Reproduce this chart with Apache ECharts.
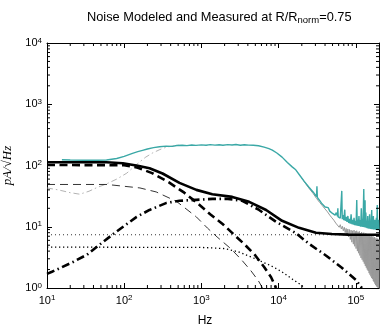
<!DOCTYPE html>
<html>
<head>
<meta charset="utf-8">
<script src="https://cdn.jsdelivr.net/npm/echarts@6/dist/echarts.min.js"></script>
<style>
  html, body { margin: 0; padding: 0; background: #fff; }
  #chart { width: 388px; height: 327px; }
</style>
</head>
<body>
<div id="chart"></div>
<script>
// axis ranges
const xMin = 10, xMax = 200000
const yMin = 1, yMax = 10000

// measured spectra [Hz, pA/rtHz]
const measuredCyan = [[15.6,124],[20,123],[30,122],[45,122],[59,123],[80,130],[100,141],[128,158],[150,168],[173,177],[200,186],[240,196],[287,202],[350,207],[420,205],[480,212],[566,214],[650,211],[750,216],[850,213],[1000,217],[1150,214],[1300,219],[1500,215],[1700,218],[1900,214],[2200,219],[2500,216],[2800,220],[3200,214],[3600,218],[4100,215],[4700,214],[5500,210],[6500,200],[7500,188],[8300,178],[9500,160],[11100,137],[13000,112],[15000,95],[16700,85],[19000,68],[21500,55],[24600,44.6],[28000,37],[31000,31],[31400,46],[31800,30],[34000,27],[36000,24.3],[38000,23],[40000,21],[42000,19.5],[44000,20.5],[46000,18],[48000,18.8],[50000,16.5],[52000,17.2],[54000,15.5],[56000,17],[58000,14.8],[58600,20],[59200,14.5],[61000,15],[63000,13.8],[65000,14.5],[65900,38.5],[66800,13.3],[68000,15.5],[70000,12.8],[72000,19],[73000,12.5],[75000,14.5],[77000,12],[79000,15],[81000,11.5],[83000,13.5],[85000,11.2],[87000,16],[89000,11],[91000,13],[93000,10.8],[95000,14],[97000,10.6],[99000,12.5],[101000,10.5],[103000,27.4],[104500,10.4],[106000,13],[108000,10.3],[110000,15],[112000,10.2],[114000,12.8],[116000,10],[118000,20],[120000,10],[122000,13.5],[124000,9.9],[127000,41.4],[129000,9.8],[131000,14],[132000,27],[133000,9.7],[135000,17],[137000,9.6],[139000,12.5],[141000,9.5],[143000,15],[145000,9.4],[147000,12],[149000,9.3],[151000,16],[153000,9.3],[155000,12.5],[157000,9.2],[159000,14],[161000,18.8],[163000,9.1],[165000,12],[167000,9.1],[169000,15],[171000,9],[173000,11.5],[175000,9],[177000,13],[179000,9],[181000,11],[183000,8.9],[185000,14],[187000,8.9],[190000,22.7],[192000,8.9],[194000,12],[196000,8.8],[198000,13],[200000,9]]
const measuredGrayLow = [[10,43],[14,40],[20,36],[26.6,34],[35,38],[45,44],[59,50],[80,60],[108,75],[130,92],[158,114],[190,137],[233,160],[290,182],[354,200],[430,208],[520,215]]
const measuredGrayHigh = [[20000,62],[24600,43],[28000,35],[31000,29],[34000,25],[37000,22],[40000,19.5],[43000,17.5],[46000,15.5],[49000,14],[52000,12.8],[55000,11.5],[58000,10.8],[61000,9.8],[63000,10.8],[65000,9.2],[67000,10.2],[69000,8.6],[71000,9.8],[73000,8],[75000,9.4],[77000,7.4],[79000,9.2],[81000,6.8],[83000,9],[85000,6.2],[87000,8.8],[89000,5.6],[91000,8.6],[93000,5.2],[95000,8.8],[97000,4.8],[99000,8.4],[101000,4.4],[103000,8.6],[105000,4],[107000,8.2],[109000,3.7],[111000,8.4],[113000,3.4],[115000,7.9],[117000,3.1],[119000,8.2],[121000,2.9],[123000,7.7],[125000,2.7],[127000,8],[129000,2.5],[131000,7.5],[133000,2.3],[135000,7.8],[137000,2.15],[139000,7.3],[141000,2],[143000,7.6],[145000,1.9],[147000,7.1],[149000,1.75],[151000,7.4],[153000,1.65],[155000,6.9],[157000,1.55],[159000,7.2],[161000,1.45],[163000,6.7],[165000,1.4],[167000,7],[169000,1.3],[171000,6.5],[173000,1.25],[175000,6.8],[177000,1.18],[179000,6.3],[181000,1.12],[183000,6.6],[185000,1.08],[187000,6.1],[189000,1.04],[191000,6.4],[193000,1.02],[195000,5.9],[197000,1],[199000,6.2],[200000,1]]

// model components
const modelTotal = [[10,113],[59,113],[96,109],[150,99],[213,90],[314,74],[520,52],[861,40],[1386,34],[2512,30.7],[4160,25.5],[6900,18.8],[11100,12.5],[18400,9.6],[30500,8],[49000,7.6],[80000,7.45],[200000,7.4]]
const modelThickDash = [[10,102],[100,101],[150,92],[230,75],[380,53],[600,36],[900,24],[1300,16],[1900,11],[2600,7.6],[3600,5.2],[5000,3.4],[6500,2.2],[8000,1.5],[9300,1.0]]
const modelThinDash = [[10,49],[60,49],[160,43],[260,37],[475,26],[860,14.5],[1200,9.5],[1600,6.8],[2400,4.4],[3300,2.9],[4400,1.9],[5500,1.3],[6200,1.0]]
const modelDashDot = [[10,1.7],[11.6,1.84],[22,2.68],[33,3.5],[48,5.1],[75,7.9],[118,12],[145,14.5],[213,18.8],[354,24.5],[520,26.5],[860,27.5],[1400,28.5],[2200,28.5],[3380,26.5],[5600,18.8],[9300,12],[16700,7.9],[24600,5.3],[41000,3.4],[66000,2.14],[100000,1.36],[120000,1.0]]
const modelDotHigh = [[10,7.4],[200000,7.4]]
const modelDotLow = [[10,4.65],[1000,4.6],[2000,4.4],[3000,3.9],[5000,3.0],[8000,2.3],[11000,1.85],[15000,1.4],[19000,1.15],[22000,1.0]]

// minor tick positions (2..9 per decade)
const minorX = []
for (let d = xMin; d < xMax; d *= 10) for (let k = 2; k <= 9; k++) if (d * k < xMax) minorX.push([d * k, yMin])
const minorY = []
for (let d = yMin; d < yMax; d *= 10) for (let k = 2; k <= 9; k++) minorY.push([xMin, d * k])

const font = 'Liberation Sans, Arial, Helvetica, sans-serif'

const powLabel = v => {
  const p = Math.log10(v)
  if (Math.abs(p - Math.round(p)) > 1e-6) return ''
  return '{b|10}{s|' + Math.round(p) + '}'
}
const labelRich = {
  b: { fontSize: 11, fontFamily: font, color: '#000' },
  s: { fontSize: 8, fontFamily: font, color: '#000', verticalAlign: 'top', padding: [0, 0, 5, 0] }
}

const axisCommon = {
  type: 'log',
  logBase: 10,
  axisLine: { show: true, onZero: false, lineStyle: { color: '#000', width: 1 } },
  axisTick: { inside: true, length: 5, lineStyle: { color: '#000', width: 1 } },
  splitLine: { show: false },
  minorTick: { show: false }
}

const line = (data, color, width, type, z) => ({
  type: 'line',
  data,
  symbol: 'none',
  showSymbol: false,
  clip: true,
  z,
  lineStyle: { color, width, type },
  emphasis: { disabled: true }
})

const minorTicks = (data, isX) => ({
  type: 'custom',
  data,
  z: 10,
  silent: true,
  clip: false,
  renderItem: (params, api) => {
    const style = { stroke: '#000', lineWidth: 1 }
    if (isX) {
      const v = api.value(0)
      const b = api.coord([v, yMin]), t = api.coord([v, yMax])
      return { type: 'group', children: [
        { type: 'line', shape: { x1: b[0], y1: b[1], x2: b[0], y2: b[1] - 3 }, style },
        { type: 'line', shape: { x1: t[0], y1: t[1], x2: t[0], y2: t[1] + 3 }, style }
      ] }
    }
    const v = api.value(1)
    const l = api.coord([xMin, v]), r = api.coord([xMax, v])
    return { type: 'group', children: [
      { type: 'line', shape: { x1: l[0], y1: l[1], x2: l[0] + 3, y2: l[1] }, style },
      { type: 'line', shape: { x1: r[0], y1: r[1], x2: r[0] - 3, y2: r[1] }, style }
    ] }
  }
})

const chart = echarts.init(document.getElementById('chart'), null, { renderer: 'canvas' })
chart.setOption({
  animation: false,
  backgroundColor: '#fff',
  title: {
    text: 'Noise Modeled and Measured at R/R{sub|norm}=0.75',
    left: 82,
    top: 4,
    textStyle: {
      fontSize: 12.8, fontWeight: 'normal', color: '#000', fontFamily: font,
      rich: { sub: { fontSize: 9.5, fontFamily: font, color: '#000', verticalAlign: 'bottom', padding: [6, 0, 0, 0] } }
    }
  },
  grid: { left: 47, right: 9, top: 43, bottom: 39, containLabel: false, outerBoundsMode: 'none' },
  xAxis: [
    Object.assign({}, axisCommon, {
      position: 'bottom', min: xMin, max: xMax,
      axisLabel: { formatter: powLabel, rich: labelRich, margin: 6, showMaxLabel: false },
      name: 'Hz', nameLocation: 'middle', nameGap: 27,
      nameTextStyle: { fontSize: 12, fontFamily: font, color: '#000', padding: [0, 16, 0, 0] }
    }),
    Object.assign({}, axisCommon, { position: 'top', min: xMin, max: xMax, axisLabel: { show: false } })
  ],
  yAxis: [
    Object.assign({}, axisCommon, {
      position: 'left', min: yMin, max: yMax,
      axisLabel: { formatter: powLabel, rich: labelRich, margin: 5 },
      name: 'pA/√Hz', nameLocation: 'middle', nameGap: 27, nameRotate: 90,
      nameTextStyle: { fontSize: 13, fontFamily: 'Liberation Serif, DejaVu Serif, serif', fontStyle: 'italic', color: '#000' }
    }),
    Object.assign({}, axisCommon, { position: 'right', min: yMin, max: yMax, axisLabel: { show: false } })
  ],
  series: [
    line(measuredGrayLow, '#a0a0a0', 0.8, [6, 3, 1.5, 3], 1),
    line(measuredGrayHigh, '#999999', 1, 'solid', 1),
    line(measuredCyan, '#3aa8a6', 1.4, 'solid', 2),
    line(modelDotHigh, '#000', 0.8, [1, 3], 3),
    line(modelDotLow, '#000', 1.3, [1.3, 2.7], 3),
    line(modelThinDash, '#000', 0.8, [8, 5], 3),
    line(modelDashDot, '#000', 2.6, [8, 3.5, 1.5, 3.5], 4),
    line(modelThickDash, '#000', 2.6, [8, 4.5], 4),
    line(modelTotal, '#000', 2.6, 'solid', 5),
    minorTicks(minorX, true),
    minorTicks(minorY, false)
  ]
})
</script>
</body>
</html>
